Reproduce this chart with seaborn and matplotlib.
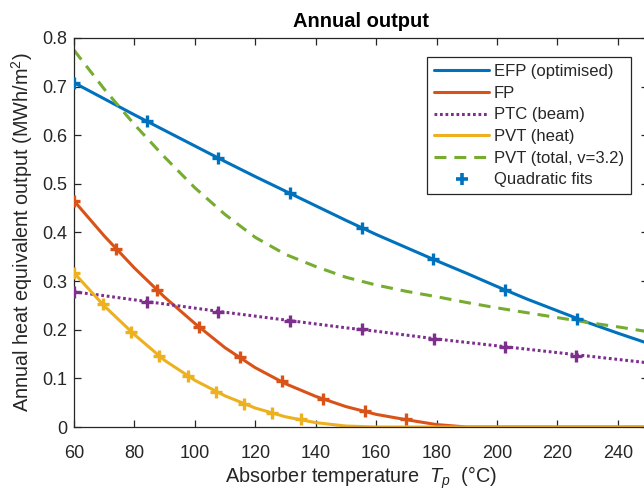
import matplotlib
matplotlib.use("Agg")
import matplotlib.pyplot as plt
from matplotlib.lines import Line2D
from matplotlib.ticker import FuncFormatter
import seaborn as sns
import pandas as pd

# Absorber temperature grid (°C)
temp = [60, 70, 80, 90, 100, 110, 120, 130, 140, 150,
        160, 170, 180, 190, 200, 210, 220, 230, 240, 250]

# Annual heat equivalent output (MWh/m^2) per collector type
efp = [0.708, 0.675, 0.642, 0.610, 0.578, 0.546, 0.515, 0.485, 0.455, 0.425,
       0.396, 0.369, 0.342, 0.316, 0.289, 0.263, 0.239, 0.215, 0.193, 0.172]
fp = [0.465, 0.393, 0.327, 0.267, 0.213, 0.163, 0.122, 0.089, 0.063, 0.042,
      0.026, 0.015, 0.005, 0.0, 0.0, 0.0, 0.0, 0.0, 0.0, 0.0]
ptc = [0.278, 0.270, 0.2615, 0.253, 0.2445, 0.236, 0.228, 0.220, 0.212, 0.204,
       0.197, 0.189, 0.181, 0.174, 0.167, 0.160, 0.153, 0.146, 0.139, 0.132]
pvt_heat = [0.317, 0.249, 0.190, 0.137, 0.096, 0.064, 0.039, 0.021, 0.009, 0.002,
            0.0, 0.0, 0.0, 0.0, 0.0, 0.0, 0.0, 0.0, 0.0, 0.0]
pvt_total = [0.775, 0.695, 0.622, 0.555, 0.492, 0.437, 0.390, 0.355, 0.330, 0.308,
             0.292, 0.279, 0.268, 0.256, 0.245, 0.235, 0.225, 0.215, 0.206, 0.196]

# Quadratic fit evaluation points
efp_fit_t = [60, 84, 107.7, 131.5, 155.2, 178.9, 202.6, 226.5]
efp_fit = [0.708, 0.629, 0.553, 0.481, 0.410, 0.345, 0.282, 0.223]
fp_fit_t = [60, 74, 87.4, 101.5, 115, 128.7, 142.5, 156.3, 170]
fp_fit = [0.464, 0.366, 0.282, 0.205, 0.143, 0.094, 0.058, 0.032, 0.017]
ptc_fit_t = [60, 84, 107.7, 131.5, 155.2, 179.1, 202.8, 226.3]
ptc_fit = [0.278, 0.258, 0.237, 0.219, 0.201, 0.181, 0.165, 0.147]
pvt_fit_t = [60, 69.5, 78.9, 88.2, 97.8, 107, 116.4, 125.7, 135.3]
pvt_fit = [0.317, 0.252, 0.196, 0.146, 0.105, 0.073, 0.047, 0.028, 0.016]

x_ticks = [60, 80, 100, 120, 140, 160, 180, 200, 220, 240]
y_ticks = [0, 0.1, 0.2, 0.3, 0.4, 0.5, 0.6, 0.7, 0.8]

labels = ["EFP (optimised)", "FP", "PTC (beam)", "PVT (heat)", "PVT (total, v=3.2)"]
colors = ["#0072BD", "#D95319", "#7E2F8E", "#EDB120", "#77AC30"]

sns.set_theme(style="white")
plt.rcParams["font.family"] = ["Liberation Sans", "DejaVu Sans"]
plt.rcParams["mathtext.fontset"] = "custom"
plt.rcParams["mathtext.rm"] = "Liberation Sans"
plt.rcParams["mathtext.it"] = "Liberation Sans:italic"

fig = plt.figure(figsize=(6.44, 4.90), dpi=100)
ax = fig.add_axes([74 / 644, 63 / 490, 574 / 644, 389 / 490])

df = pd.DataFrame({"T": temp, "efp": efp, "fp": fp, "ptc": ptc,
                   "pvt_heat": pvt_heat, "pvt_total": pvt_total})
series = ["efp", "fp", "ptc", "pvt_heat", "pvt_total"]
styles = ["-", "-", (0, (0.9, 0.9)), "-", (0, (3.9, 2.6))]
lw = 2.2
for key, lab, col, ls in zip(series, labels, colors, styles):
    sns.lineplot(data=df, x="T", y=key, ax=ax, color=col, linewidth=lw,
                 label=lab, legend=False)
    ln = ax.lines[-1]
    ln.set_linestyle(ls)
    ln.set_dash_capstyle("butt")
    ln.set_solid_capstyle("butt")

fits = [(efp_fit_t, efp_fit, colors[0]), (fp_fit_t, fp_fit, colors[1]),
        (ptc_fit_t, ptc_fit, colors[2]), (pvt_fit_t, pvt_fit, colors[3])]
for ft, fv, col in fits:
    sns.scatterplot(x=ft, y=fv, ax=ax, marker="+", s=80, linewidth=2.4,
                    color=col, zorder=5, legend=False)

ax.set_xlim(60, 250)
ax.set_ylim(0, 0.8)
ax.set_xticks(x_ticks)
ax.set_yticks(y_ticks)
ax.yaxis.set_major_formatter(FuncFormatter(lambda v, p: "0" if v == 0 else f"{v:g}"))

tc = "#262626"
for sp in ax.spines.values():
    sp.set_visible(True)
    sp.set_color(tc)
    sp.set_linewidth(0.9)
ax.tick_params(direction="in", length=5, width=0.9, colors=tc, labelsize=13,
               top=True, right=True, bottom=True, left=True)
ax.tick_params(axis="x", pad=13)
ax.tick_params(axis="y", pad=5)

ax.set_xlabel(r"Absorber temperature  $\mathit{T}_{\mathit{p}}$  (°C)", fontsize=14.3, color=tc, labelpad=2)
ax.set_ylabel(r"Annual heat equivalent output (MWh/m$^2$)", fontsize=14.3, color=tc, labelpad=5)
ax.set_title("Annual output", fontsize=14.5, fontweight="bold", color="black", pad=8)

handles = [Line2D([], [], color=c, linewidth=lw, linestyle=s) for c, s in zip(colors, styles)]
for h in handles:
    h.set_dash_capstyle("butt")
handles.append(Line2D([], [], color=colors[0], marker="+", markersize=9,
                      markeredgewidth=2.6, linestyle="none"))
leg = ax.legend(handles, labels + ["Quadratic fits"], loc="upper right",
                bbox_to_anchor=(0.970, 0.951), borderaxespad=0, fontsize=12,
                handlelength=3.25, handletextpad=0.3, labelspacing=0.4,
                borderpad=0.42, frameon=True, fancybox=False, framealpha=1)
leg.get_frame().set_edgecolor(tc)
leg.get_frame().set_linewidth(0.9)
for t in leg.get_texts():
    t.set_color(tc)

fig.savefig("out.png", dpi=100)
